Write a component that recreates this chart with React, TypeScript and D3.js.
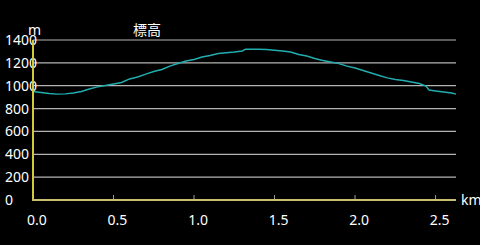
import React from "react";
import * as d3 from "d3";

const distKm = [0, 0.05, 0.1, 0.15, 0.2, 0.25, 0.3, 0.35, 0.4, 0.45, 0.5, 0.55, 0.6, 0.65, 0.7, 0.75, 0.8, 0.85, 0.9, 0.95, 1.0, 1.05, 1.1, 1.15, 1.2, 1.25, 1.3, 1.32, 1.35, 1.4, 1.45, 1.5, 1.55, 1.6, 1.65, 1.7, 1.75, 1.8, 1.85, 1.9, 1.95, 2.0, 2.05, 2.1, 2.15, 2.2, 2.25, 2.3, 2.35, 2.4, 2.44, 2.46, 2.5, 2.55, 2.6, 2.627];
const elevM = [949, 941, 932, 926, 929, 936, 949, 971, 990, 1002, 1015, 1028, 1059, 1076, 1102, 1124, 1142, 1172, 1194, 1216, 1229, 1251, 1264, 1282, 1289, 1295, 1304, 1319, 1319, 1319, 1317, 1310, 1304, 1295, 1273, 1260, 1238, 1221, 1208, 1193, 1172, 1155, 1133, 1111, 1089, 1068, 1054, 1046, 1032, 1019, 997, 962, 954, 945, 936, 927];
const yTicks = [0, 200, 400, 600, 800, 1000, 1200, 1400];
const xTicks = [0, 0.5, 1.0, 1.5, 2.0, 2.5];
const title = "標高";
const yUnit = "m";
const xUnit = "km";

export default function App() {
  const W = 480, H = 245;
  const x = d3.scaleLinear().domain([0, 2.627]).range([33, 456]);
  const y = d3.scaleLinear().domain([0, 1400]).range([200, 40]);
  const pts = distKm.map((d, i) => [d, elevM[i]] as [number, number]);
  const line = d3.line<[number, number]>().x(d => x(d[0])).y(d => y(d[1]));
  const font = "'Noto Sans', 'Noto Sans CJK JP', sans-serif";
  return (
    <div style={{ position: "fixed", left: 0, top: 0 }}>
      <svg width={W} height={H} style={{ display: "block", background: "#000" }} fontFamily={font}>
        <rect x={0} y={0} width={W} height={H} fill="#000" />
        {yTicks.filter(t => t > 0).map(t => (
          <line key={t} x1={x(0)} x2={x(2.627)} y1={y(t)} y2={y(t)} stroke="#b4b4b4" strokeWidth={1.2} />
        ))}
        {xTicks.filter(t => t > 0).map(t => (
          <line key={t} x1={x(t)} x2={x(t)} y1={y(0)} y2={y(0) - 5} stroke="#999" strokeWidth={1} />
        ))}
        {yTicks.map(t => (
          <text key={t} x={5} y={y(t)} dy="0.36em" fill="#fff" fontSize={14}>{t}</text>
        ))}
        {xTicks.map(t => (
          <text key={t} x={x(t) + 4} y={225} textAnchor="middle" fill="#fff" fontSize={14}>{t.toFixed(1)}</text>
        ))}
        <path d={line(pts) || ""} fill="none" stroke="#22aeb0" strokeWidth={1.4} />
        <line x1={x(0)} x2={x(0)} y1={y(1400)} y2={y(0) + 1} stroke="#d2c83a" strokeWidth={2} />
        <line x1={x(0) - 1} x2={x(2.627)} y1={y(0)} y2={y(0)} stroke="#c8c070" strokeWidth={2} />
        <text x={461} y={y(0)} dy="0.36em" fill="#fff" fontSize={14}>{xUnit}</text>
        <text x={28} y={35} fill="#fff" fontSize={14}>{yUnit}</text>
        <text x={133} y={35} fill="#fff" fontSize={14}>{title}</text>
      </svg>
    </div>
  );
}
